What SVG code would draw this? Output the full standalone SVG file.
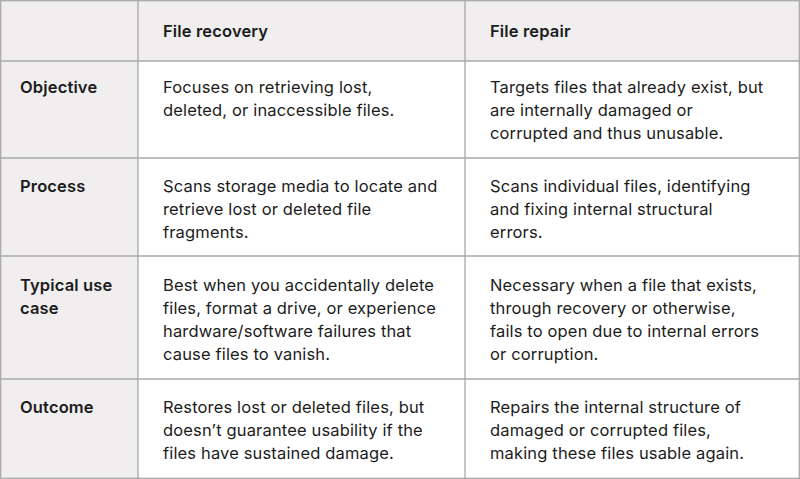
<svg xmlns="http://www.w3.org/2000/svg" width="800" height="479" viewBox="0 0 800 479">
<style>
text{font-family:Inter,"Noto Sans","Liberation Sans",sans-serif;font-size:16.5px;letter-spacing:0.15px;fill:#1c1c1c}
.b{font-weight:600}
.g{fill:#f0eeef}
.l{stroke:#a9a9a9;stroke-width:1.3;fill:none}
</style>
<rect width="800" height="479" fill="#fff"/>
<rect class="g" x="0" y="0" width="800" height="61"/>
<rect class="g" x="0" y="61" width="138" height="418"/>
<g id="grid">
<rect class="l" x="0.7" y="0.7" width="798.6" height="477.6"/>
<path class="l" d="M138 0V479M465 0V479M0 61H800M0 158H800M0 256H800M0 379H800"/>
</g>
<g id="header"><text class="b" x="163" y="37">File recovery</text><text class="b" x="490" y="37">File repair</text></g>
<g id="r1"><text class="b" x="20" y="93">Objective</text>
<text x="163" y="93">Focuses on retrieving lost,</text><text x="163" y="116">deleted, or inaccessible files.</text>
<text x="490" y="93">Targets files that already exist, but</text><text x="490" y="116">are internally damaged or</text><text x="490" y="139">corrupted and thus unusable.</text></g>
<g id="r2"><text class="b" x="20" y="192">Process</text>
<text x="163" y="192">Scans storage media to locate and</text><text x="163" y="215">retrieve lost or deleted file</text><text x="163" y="238">fragments.</text>
<text x="490" y="192">Scans individual files, identifying</text><text x="490" y="215">and fixing internal structural</text><text x="490" y="238">errors.</text></g>
<g id="r3"><text class="b" x="20" y="291">Typical use</text><text class="b" x="20" y="314">case</text>
<text x="163" y="291">Best when you accidentally delete</text><text x="163" y="314">files, format a drive, or experience</text><text x="163" y="337">hardware/software failures that</text><text x="163" y="360">cause files to vanish.</text>
<text x="490" y="291">Necessary when a file that exists,</text><text x="490" y="314">through recovery or otherwise,</text><text x="490" y="337">fails to open due to internal errors</text><text x="490" y="360">or corruption.</text></g>
<g id="r4"><text class="b" x="20" y="413">Outcome</text>
<text x="163" y="413">Restores lost or deleted files, but</text><text x="163" y="436">doesn’t guarantee usability if the</text><text x="163" y="459">files have sustained damage.</text>
<text x="490" y="413">Repairs the internal structure of</text><text x="490" y="436">damaged or corrupted files,</text><text x="490" y="459">making these files usable again.</text></g>
</svg>
